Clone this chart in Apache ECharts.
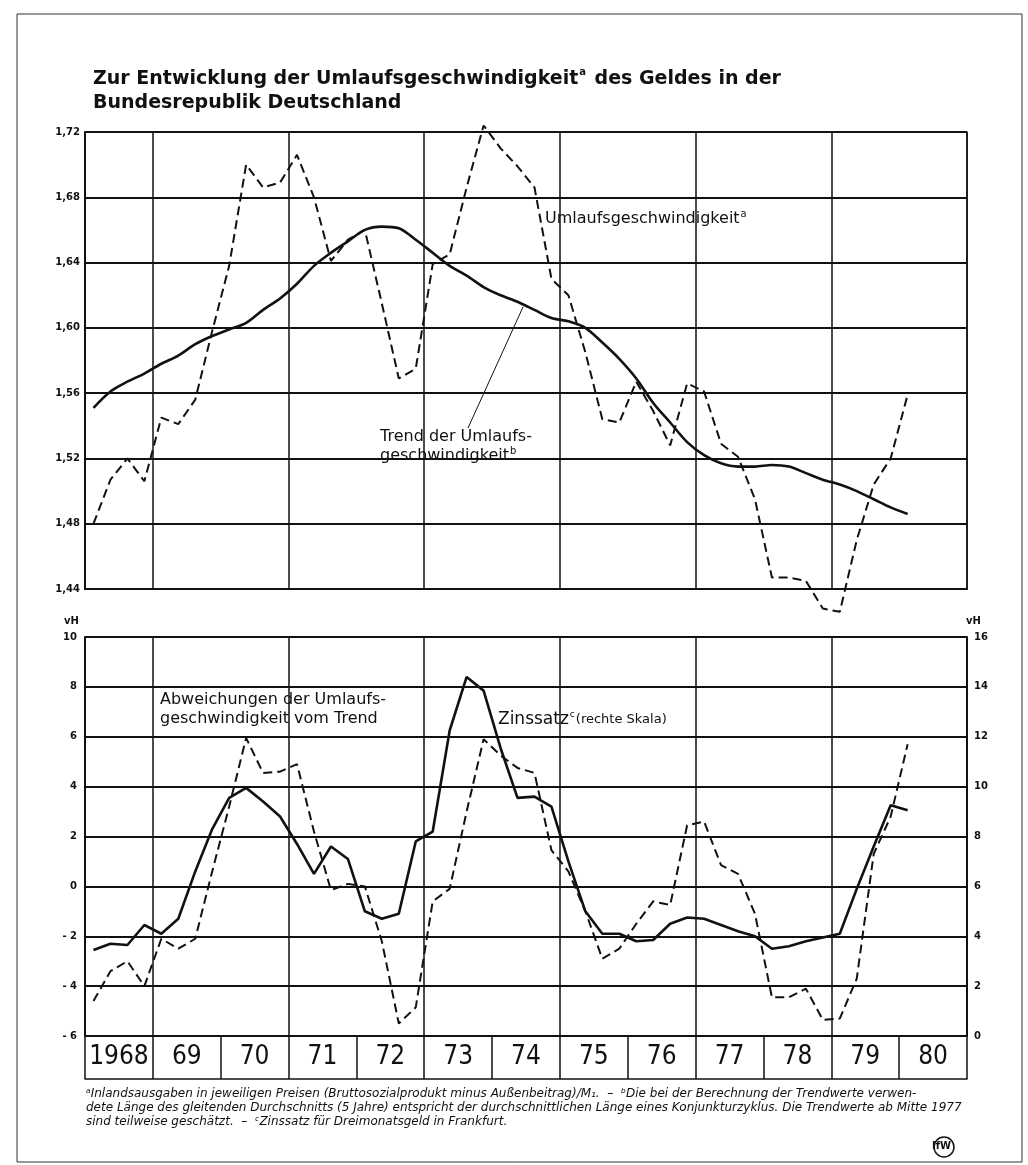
<!DOCTYPE html>
<html>
<head>
<meta charset="utf-8">
<script src="https://cdn.jsdelivr.net/npm/echarts@6/dist/echarts.min.js"></script>
<style>
    html, body { margin: 0; padding: 0; background: #fff; }
    #chart { width: 1028px; height: 1165px; }
</style>
</head>
<body>
<div id="chart"></div>
<script>
// year boxes under the lower panel
var years = ['1968', '69', '70', '71', '72', '73', '74', '75', '76', '77', '78', '79', '80'];

// quarterly categories 1968 I .. 1980 IV
var quarters = [];
for (var y = 1968; y <= 1980; y++) {
    ['I', 'II', 'III', 'IV'].forEach(function (q) { quarters.push(y + ' ' + q); });
}

// Umlaufsgeschwindigkeit (quarterly, 1968 I - 1980 I)
var velocity = [1.480, 1.507, 1.520, 1.506, 1.545, 1.541, 1.556, 1.598, 1.638, 1.700,
    1.686, 1.689, 1.706, 1.680, 1.641, 1.654, 1.660, 1.615, 1.569, 1.575,
    1.639, 1.645, 1.686, 1.724, 1.710, 1.699, 1.686, 1.630, 1.620, 1.585,
    1.544, 1.542, 1.567, 1.549, 1.528, 1.566, 1.561, 1.529, 1.521, 1.495,
    1.447, 1.447, 1.445, 1.428, 1.426, 1.470, 1.504, 1.520, 1.559];

// Trend der Umlaufsgeschwindigkeit
var trend = [1.551, 1.561, 1.567, 1.572, 1.578, 1.583, 1.590, 1.595, 1.599, 1.603,
    1.611, 1.618, 1.627, 1.638, 1.646, 1.653, 1.660, 1.662, 1.661, 1.654,
    1.646, 1.638, 1.632, 1.625, 1.620, 1.616, 1.611, 1.606, 1.604, 1.600,
    1.591, 1.581, 1.569, 1.554, 1.542, 1.530, 1.522, 1.517, 1.515, 1.515,
    1.516, 1.515, 1.511, 1.507, 1.504, 1.500, 1.495, 1.490, 1.486];

// Abweichungen vom Trend, vH (left scale)
var deviation = [-4.6, -3.4, -3.0, -4.0, -2.1, -2.5, -2.1, 0.6, 3.2, 5.95,
    4.55, 4.6, 4.9, 2.2, -0.15, 0.1, 0.0, -2.2, -5.5, -4.85,
    -0.6, -0.1, 3.0, 5.9, 5.25, 4.75, 4.55, 1.45, 0.6, -1.0,
    -2.9, -2.5, -1.5, -0.6, -0.75, 2.45, 2.6, 0.85, 0.5, -1.1,
    -4.45, -4.45, -4.1, -5.35, -5.3, -3.7, 1.3, 2.8, 5.7];

// Zinssatz fuer Dreimonatsgeld, vH (right scale)
var interest = [3.45, 3.7, 3.65, 4.45, 4.1, 4.7, 6.6, 8.3, 9.55, 9.95,
    9.4, 8.8, 7.7, 6.5, 7.6, 7.1, 5.0, 4.7, 4.9, 7.8,
    8.2, 12.25, 14.4, 13.85, 11.55, 9.55, 9.6, 9.2, 7.0, 5.0,
    4.1, 4.1, 3.8, 3.85, 4.5, 4.75, 4.7, 4.45, 4.2, 4.0,
    3.5, 3.6, 3.8, 3.95, 4.1, 5.9, 7.6, 9.25, 9.05];

var ink = '#111';
var labelFont = "'DejaVu Sans', sans-serif";

function oddYearLine(index) {
    // vertical rules at 1969, 1971, ...
    return index % 8 === 4;
}

var chartDom = document.getElementById('chart');
var myChart = echarts.init(chartDom, null, { renderer: 'canvas' });
var option;

option = {
    backgroundColor: '#fff',
    animation: false,
    title: {
        left: 88,
        top: 62,
        text: '{t|Zur Entwicklung der Umlaufsgeschwindigkeit}{s|a}{t| des Geldes in der}\n{t|Bundesrepublik Deutschland}',
        textStyle: {
            rich: {
                t: { fontFamily: "'DejaVu Sans', sans-serif", fontWeight: 'bold', fontSize: 19, color: ink, lineHeight: 24 },
                s: { fontFamily: "'DejaVu Sans', sans-serif", fontWeight: 'bold', fontSize: 10, color: ink, verticalAlign: 'top', lineHeight: 24, padding: [0, 2, 10, 1] }
            }
        }
    },
    grid: [
        { left: 85, right: 61, top: 132, height: 457 },
        { left: 85, right: 61, top: 637, height: 399 },
        { left: 85, right: 61, top: 1036, height: 43 }
    ],
    xAxis: [
        {
            gridIndex: 0, type: 'category', data: quarters, boundaryGap: true,
            axisLine: { show: true, lineStyle: { color: ink, width: 2 } },
            axisTick: { show: false }, axisLabel: { show: false },
            splitLine: { show: true, interval: oddYearLine, lineStyle: { color: ink, width: 1.5 } }
        },
        {
            gridIndex: 1, type: 'category', data: quarters, boundaryGap: true,
            axisLine: { show: false }, axisTick: { show: false }, axisLabel: { show: false },
            splitLine: { show: true, interval: oddYearLine, lineStyle: { color: ink, width: 1.5 } }
        },
        {
            gridIndex: 2, type: 'category', data: years, boundaryGap: true,
            axisLine: { show: true, lineStyle: { color: ink, width: 1.5 } },
            axisTick: { show: false, interval: 0 },
            axisLabel: {
                interval: 0, margin: -22, verticalAlign: 'middle', color: ink,
                fontFamily: "'DejaVu Sans Condensed', 'Liberation Sans Narrow', sans-serif", fontSize: 26
            },
            splitLine: { show: true, interval: 0, lineStyle: { color: ink, width: 1.5 } }
        }
    ],
    yAxis: [
        {
            gridIndex: 0, type: 'value', min: 1.44, max: 1.72, interval: 0.04,
            axisLine: { show: true, lineStyle: { color: ink, width: 2 } },
            axisTick: { show: false },
            axisLabel: {
                color: ink, fontFamily: labelFont, fontSize: 10, fontWeight: 'bold', margin: 5,
                formatter: function (v) { return v.toFixed(2).replace('.', ','); }
            },
            splitLine: { show: true, lineStyle: { color: ink, width: 2 } }
        },
        {
            gridIndex: 0, type: 'value', position: 'right', min: 1.44, max: 1.72, interval: 0.04,
            axisLine: { show: true, lineStyle: { color: ink, width: 1.5 } },
            axisTick: { show: false }, axisLabel: { show: false }, splitLine: { show: false }
        },
        {
            gridIndex: 1, type: 'value', min: -6, max: 10, interval: 2,
            axisLine: { show: true, lineStyle: { color: ink, width: 2 } },
            axisTick: { show: false },
            axisLabel: {
                color: ink, fontFamily: labelFont, fontSize: 10, fontWeight: 'bold', margin: 8,
                formatter: function (v) { return v < 0 ? '- ' + Math.abs(v) : '' + v; }
            },
            splitLine: { show: true, lineStyle: { color: ink, width: 2 } }
        },
        {
            gridIndex: 1, type: 'value', position: 'right', min: 0, max: 16, interval: 2,
            axisLine: { show: true, lineStyle: { color: ink, width: 2 } },
            axisTick: { show: false },
            axisLabel: { color: ink, fontFamily: labelFont, fontSize: 10, fontWeight: 'bold', margin: 7 },
            splitLine: { show: false }
        },
        {
            gridIndex: 2, type: 'value', show: false
        }
    ],
    series: [
        {
            name: 'Umlaufsgeschwindigkeit', type: 'line', xAxisIndex: 0, yAxisIndex: 0,
            data: velocity, symbol: 'none', clip: false, z: 5,
            lineStyle: { color: ink, width: 2, type: [9, 5] }
        },
        {
            name: 'Trend', type: 'line', xAxisIndex: 0, yAxisIndex: 0,
            data: trend, symbol: 'none', smooth: 0.3, clip: false, z: 6,
            lineStyle: { color: ink, width: 2.6 }
        },
        {
            name: 'Abweichungen', type: 'line', xAxisIndex: 1, yAxisIndex: 2,
            data: deviation, symbol: 'none', clip: false, z: 5,
            lineStyle: { color: ink, width: 2, type: [9, 5] }
        },
        {
            name: 'Zinssatz', type: 'line', xAxisIndex: 1, yAxisIndex: 3,
            data: interest, symbol: 'none', clip: false, z: 6,
            lineStyle: { color: ink, width: 2.6 }
        }
    ],
    graphic: [
        // frame of the page
        { type: 'rect', shape: { x: 17, y: 14, width: 1005, height: 1148 }, style: { fill: null, stroke: '#333', lineWidth: 1 }, silent: true },
        // unit labels
        { type: 'text', left: 64, top: 616, style: { text: 'vH', font: "bold 10px 'DejaVu Sans'", fill: ink } },
        { type: 'text', left: 966, top: 616, style: { text: 'vH', font: "bold 10px 'DejaVu Sans'", fill: ink } },
        // upper panel annotations
        {
            type: 'text', left: 545, top: 209,
            style: {
                text: '{t|Umlaufsgeschwindigkeit}{s|a}',
                rich: {
                    t: { font: "16px 'DejaVu Sans'", fill: ink, lineHeight: 20 },
                    s: { font: "10px 'DejaVu Sans'", fill: ink, verticalAlign: 'top', lineHeight: 20, padding: [0, 0, 9, 1] }
                },
                backgroundColor: '#fff'
            }
        },
        {
            type: 'text', left: 380, top: 427,
            style: {
                text: '{t|Trend der Umlaufs-}\n{t|geschwindigkeit}{s|b}',
                rich: {
                    t: { font: "16px 'DejaVu Sans'", fill: ink, lineHeight: 19 },
                    s: { font: "10px 'DejaVu Sans'", fill: ink, verticalAlign: 'top', lineHeight: 19, padding: [0, 0, 8, 1] }
                },
                backgroundColor: '#fff'
            }
        },
        { type: 'line', shape: { x1: 468, y1: 428, x2: 523, y2: 307 }, style: { stroke: ink, lineWidth: 1 } },
        // lower panel annotations
        {
            type: 'text', left: 160, top: 690,
            style: {
                text: 'Abweichungen der Umlaufs-\ngeschwindigkeit vom Trend',
                font: "16px 'DejaVu Sans'", fill: ink, lineHeight: 19, backgroundColor: '#fff'
            }
        },
        {
            type: 'text', left: 498, top: 710,
            style: {
                text: '{t|Zinssatz}{s|c}{r|(rechte Skala)}',
                rich: {
                    t: { font: "17px 'DejaVu Sans'", fill: ink, lineHeight: 20 },
                    s: { font: "9px 'DejaVu Sans'", fill: ink, verticalAlign: 'top', lineHeight: 20, padding: [0, 1, 9, 1] },
                    r: { font: "13px 'DejaVu Sans'", fill: ink, lineHeight: 20 }
                },
                backgroundColor: '#fff'
            }
        },
        // footnotes
        {
            type: 'text', left: 86, top: 1087,
            style: {
                text: 'ᵃInlandsausgaben in jeweiligen Preisen (Bruttosozialprodukt minus Außenbeitrag)/M₁.  –  ᵇDie bei der Berechnung der Trendwerte verwen-\n' +
                    'dete Länge des gleitenden Durchschnitts (5 Jahre) entspricht der durchschnittlichen Länge eines Konjunkturzyklus. Die Trendwerte ab Mitte 1977\n' +
                    'sind teilweise geschätzt.  –  ᶜZinssatz für Dreimonatsgeld in Frankfurt.',
                font: "italic 12px 'DejaVu Sans'",
                fill: ink, lineHeight: 14
            }
        },
        // institute mark
        { type: 'circle', shape: { cx: 944, cy: 1147, r: 10 }, style: { fill: null, stroke: ink, lineWidth: 1.5 } },
        { type: 'text', left: 932, top: 1141, style: { text: 'IfW', font: "bold 10px 'DejaVu Sans'", fill: ink } }
    ]
};

myChart.setOption(option);

window.addEventListener('resize', function () {
    setTimeout(function () {
        myChart.resize();
    }, 250);
});
</script>
</body>
</html>
